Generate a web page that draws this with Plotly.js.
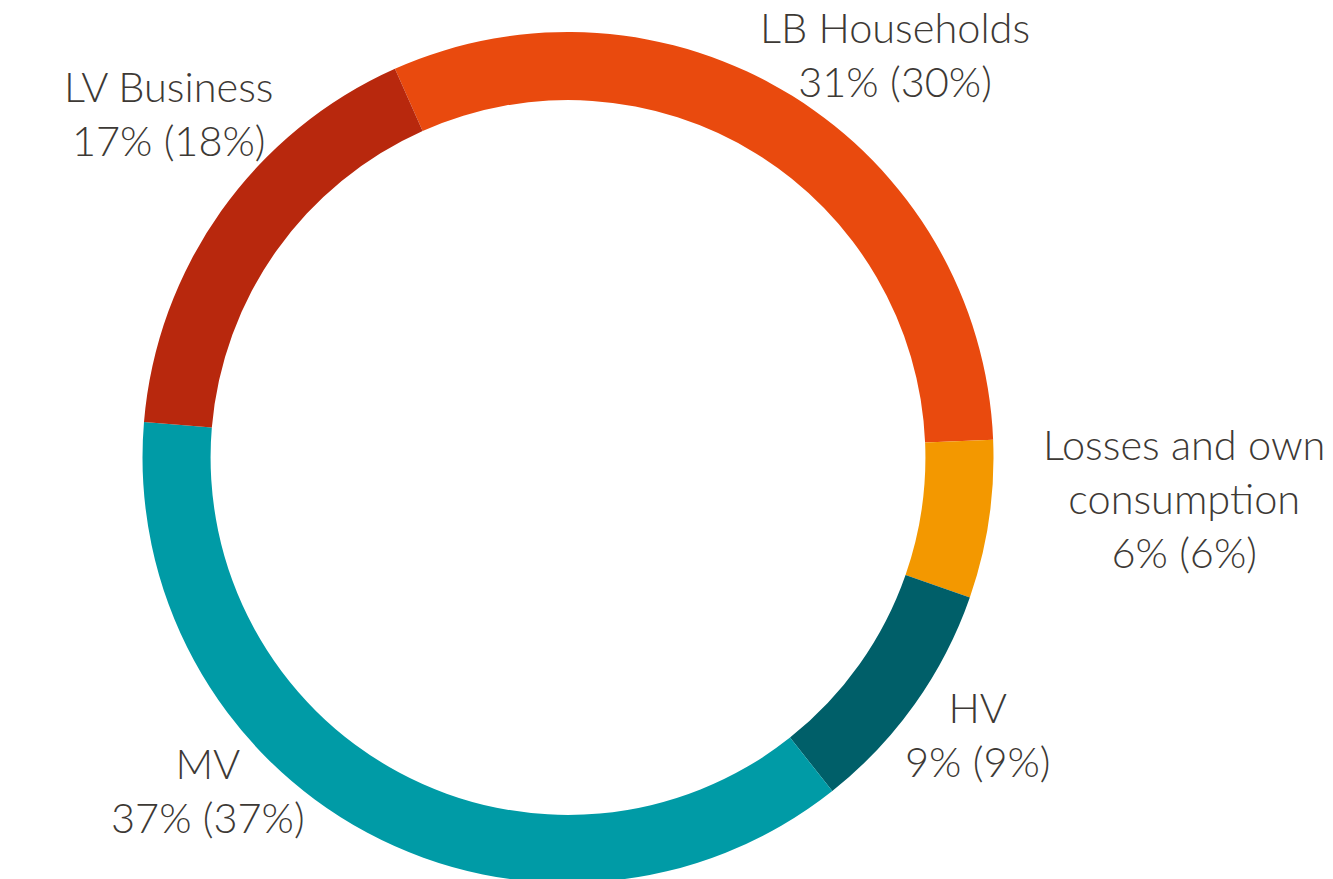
<!DOCTYPE html>
<html>
<head>
<meta charset="utf-8">
<script src="https://cdn.plot.ly/plotly-3.0.1.min.js"></script>
<style>html,body{margin:0;padding:0;background:#fff;overflow:hidden;}#chart{width:1333px;height:883px;}</style>
</head>
<body>
<div id="chart"></div>
<script>
const categories = ["LB Households", "Losses and own<br>consumption", "HV", "MV", "LV Business"];
const shareCurrent = [31, 6, 9, 37, 17];
const sharePrevious = [30, 6, 9, 37, 18];
const colors = ["#E94A0E", "#F39800", "#005F69", "#009BA6", "#B8280D"];

const W = 1333, H = 883, TOP = 32;
// label centres in page pixels
const labelPx = [[895, 54], [1184, 498], [978, 734], [208, 790], [168, 113]];
const toPaperX = px => px / W;
const toPaperY = py => (H - py) / (H - TOP);

const trace = {
  type: "pie",
  labels: categories,
  values: shareCurrent,
  sort: false,
  direction: "clockwise",
  rotation: -24,
  hole: 0.840,
  textinfo: "none",
  hoverinfo: "label+percent",
  marker: {colors: colors, line: {width: 0}},
  domain: {x: [(568 - 425.5) / W, (568 + 425.5) / W], y: [0, 1]},
  showlegend: false
};

const annotations = categories.map((c, i) => ({
  xref: "paper", yref: "paper",
  x: toPaperX(labelPx[i][0]), y: toPaperY(labelPx[i][1]),
  xanchor: "center", yanchor: "middle",
  text: c + "<br>" + shareCurrent[i] + "% (" + sharePrevious[i] + "%)",
  showarrow: false,
  align: "center",
  font: {family: "Lato, sans-serif", size: 41.5, color: "#3d3935", weight: 300}
}));

const layout = {
  width: W, height: H,
  margin: {l: 0, r: 0, t: TOP, b: 0},
  paper_bgcolor: "#ffffff",
  plot_bgcolor: "#ffffff",
  annotations: annotations,
  showlegend: false
};

Plotly.newPlot("chart", [trace], layout, {displayModeBar: false, staticPlot: true});
</script>
</body>
</html>
